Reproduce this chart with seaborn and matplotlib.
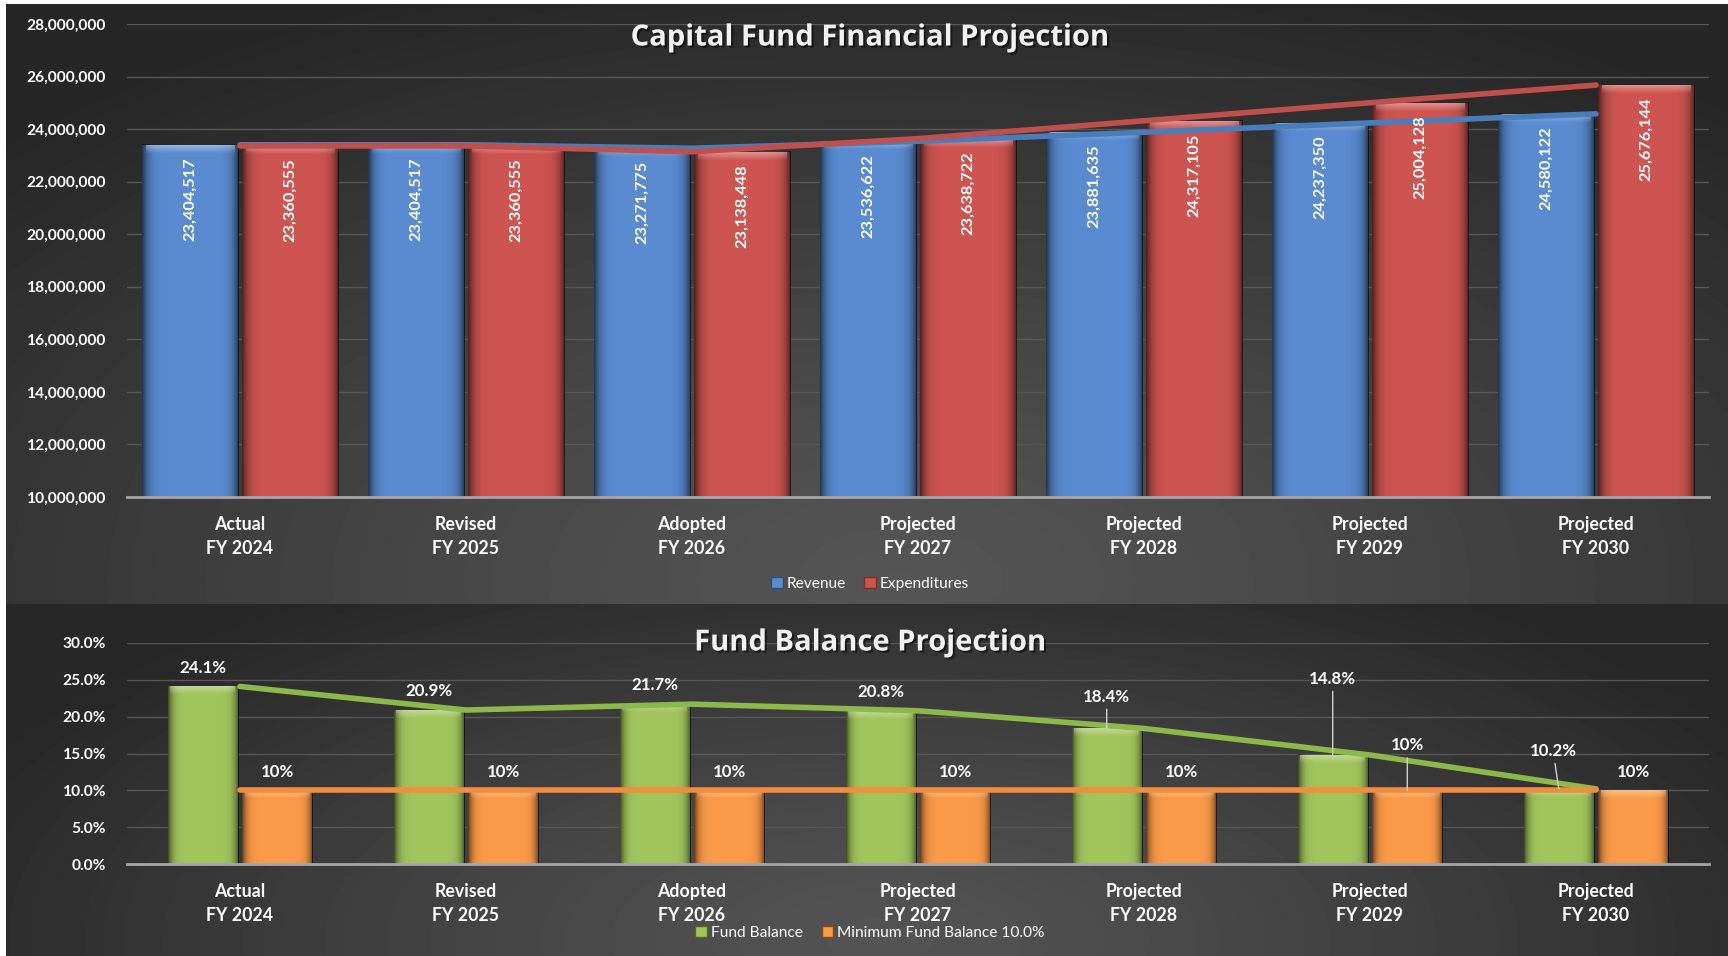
import numpy as np
import pandas as pd
import matplotlib
matplotlib.use("Agg")
import matplotlib.pyplot as plt
import matplotlib.patheffects as pe
import seaborn as sns
from matplotlib.ticker import FuncFormatter, MultipleLocator
from matplotlib.patches import Patch

# ---- data ----
categories = ["Actual\nFY 2024", "Revised\nFY 2025", "Adopted\nFY 2026", "Projected\nFY 2027",
              "Projected\nFY 2028", "Projected\nFY 2029", "Projected\nFY 2030"]
revenue = [23404517, 23404517, 23271775, 23536622, 23881635, 24237350, 24580122]
expenditures = [23360555, 23360555, 23138448, 23638722, 24317105, 25004128, 25676144]
fund_balance = [24.1, 20.9, 21.7, 20.8, 18.4, 14.8, 10.2]
min_balance = [10, 10, 10, 10, 10, 10, 10]

# label nudges (points) for the lower chart, where Excel moved labels by hand
green_dy = [13.5, 13.5, 13.5, 13.5, 23, 55, 27.5]
green_dx = [0, 0, 0, 0, 0, 0, -4]
orange_dy = [13.5, 13.5, 13.5, 13.5, 13.5, 32.5, 13.5]

BLUE, RED = "#5a8bd0", "#cd5451"
BLUE_LINE, RED_LINE = "#4a7ebb", "#c0504d"
GREEN, ORANGE = "#a0c45c", "#fa9a48"
GREEN_LINE, ORANGE_LINE = "#8db84a", "#f58b3c"

W, H = 1728, 956
sns.set_theme(style="dark")
plt.rcParams['font.family'] = ['Lato', 'DejaVu Sans']

fig = plt.figure(figsize=(W / 100, H / 100), dpi=100, facecolor="white")

# ---- dark radial gradient backgrounds, one per chart ----
bg = fig.add_axes([0, 0, 1, 1], zorder=-10)
bg.set_axis_off()
img = np.ones((H, W))
xs = np.arange(W)[None, :]


def panel(y0, y1, cx, cy, rx, ry, c_in, c_out):
    ys = np.arange(y0, y1)[:, None]
    r = np.sqrt(((xs - cx) / rx) ** 2 + ((ys - cy) / ry) ** 2)
    return c_in + (c_out - c_in) * np.clip(r, 0, 1) ** 1.2


img[4:604, :] = panel(4, 604, 900, 580, 1250, 640, 0x55 / 255, 0x26 / 255)
img[604:, :] = panel(604, H, 880, 940, 1000, 420, 0x54 / 255, 0x27 / 255)
img[:, :6] = 1.0
bg.imshow(img, cmap="gray", vmin=0, vmax=1, aspect="auto", extent=(0, W, H, 0))


def shade(ax, containers, bevel_px=9):
    # cheap bevel: dark side edges and a light band on top
    ylo, yhi = ax.get_ylim()
    per_px = (yhi - ylo) / (ax.get_position().height * H)
    g = np.linspace(-1, 1, 80)
    side = np.zeros((1, 80, 4))
    side[..., 3] = np.abs(g) ** 8 * 0.6
    for cont in containers:
        for p in cont.patches:
            x0, w = p.get_x(), p.get_width()
            top = p.get_y() + p.get_height()
            ax.imshow(side, extent=(x0, x0 + w, max(p.get_y(), ylo), top), aspect="auto",
                      zorder=p.get_zorder() + 0.1, interpolation="bilinear")
            band = np.ones((8, 1, 4))
            band[..., 3] = np.linspace(0.35, 0.0, 8)[:, None]
            ax.imshow(band, extent=(x0 + w * 0.04, x0 + w * 0.96, top - bevel_px * per_px, top),
                      aspect="auto", zorder=p.get_zorder() + 0.2, interpolation="bilinear")


def style_axes(ax):
    ax.set_facecolor("none")
    ax.grid(axis="y", color="#575757", lw=1.0)
    ax.grid(axis="x", visible=False)
    for s in ["top", "right", "left"]:
        ax.spines[s].set_visible(False)
    ax.spines["bottom"].set_color("#a6a6a6")
    ax.spines["bottom"].set_linewidth(2)
    ax.spines["bottom"].set_zorder(5)
    ax.tick_params(axis="y", colors="white", labelsize=11.2, length=0, pad=15)
    ax.tick_params(axis="x", colors="white", length=0, pad=14)
    ax.set_xlabel("")
    ax.set_ylabel("")


def finish_ticks(ax):
    ax.set_xticks(pos, categories, fontweight="bold", fontsize=12.8, linespacing=1.45)
    plt.setp(ax.get_yticklabels(), fontweight="bold")


shadow = [pe.withSimplePatchShadow(offset=(1.5, -1.5), shadow_rgbFace="black", alpha=0.5)]
pos = np.arange(len(categories))

# ---- top chart: revenue vs expenditures ----
ax1 = fig.add_axes([127 / W, 1 - 497 / H, (1709 - 127) / W, (497 - 24) / H])
df_top = pd.DataFrame({
    "Year": categories * 2,
    "Series": ["Revenue"] * 7 + ["Expenditures"] * 7,
    "Value": revenue + expenditures,
})
sns.barplot(data=df_top, x="Year", y="Value", hue="Series", palette=[BLUE, RED],
            width=0.885, gap=0.04, saturation=1, legend=False, ax=ax1, zorder=2,
            linewidth=0, edgecolor="none")
ax1.set_xlim(-0.5, 6.5)
ax1.set_ylim(10_000_000, 28_000_000)
ax1.yaxis.set_major_locator(MultipleLocator(2_000_000))
ax1.yaxis.set_major_formatter(FuncFormatter(lambda v, _: f"{v:,.0f}"))
style_axes(ax1)
shade(ax1, ax1.containers)

for cont in ax1.containers:
    for p in cont.patches:
        top = p.get_y() + p.get_height()
        ax1.annotate(f"{top:,.0f}", (p.get_x() + p.get_width() / 2, top), xytext=(0, -9),
                     textcoords="offset points", rotation=90, ha="center", va="top",
                     color="white", fontweight="bold", fontsize=11.8, zorder=6)

sns.lineplot(x=pos, y=revenue, color=BLUE_LINE, lw=4, ax=ax1, zorder=4,
             solid_capstyle="round")
sns.lineplot(x=pos, y=expenditures, color=RED_LINE, lw=4, ax=ax1, zorder=4.5,
             solid_capstyle="round")
ax1.set_xlim(-0.5, 6.5)
ax1.set_ylim(10_000_000, 28_000_000)
finish_ticks(ax1)

fig.text(870 / W, 1 - 38 / H, "Capital Fund Financial Projection", ha="center", va="center",
         color="#f2f2f2", fontsize=21, fontweight="bold", family=["Open Sans", "DejaVu Sans"],
         path_effects=shadow)
fig.legend(handles=[Patch(facecolor=BLUE, edgecolor="#2f4f7f", label="Revenue"),
                    Patch(facecolor=RED, edgecolor="#7f2f2d", label="Expenditures")],
           loc="center", bbox_to_anchor=(870 / W, 1 - 584 / H), ncol=2, frameon=False,
           fontsize=11.2, labelcolor="white", handlelength=0.75, handleheight=0.75,
           handletextpad=0.25, columnspacing=1.2)

# ---- bottom chart: fund balance ----
ax2 = fig.add_axes([127 / W, 1 - 864 / H, (1709 - 127) / W, (864 - 643) / H])
df_bot = pd.DataFrame({
    "Year": categories * 2,
    "Series": ["Fund Balance"] * 7 + ["Minimum Fund Balance 10.0%"] * 7,
    "Value": fund_balance + min_balance,
})
sns.barplot(data=df_bot, x="Year", y="Value", hue="Series", palette=[GREEN, ORANGE],
            width=0.66, gap=0.06, saturation=1, legend=False, ax=ax2, zorder=2,
            linewidth=0, edgecolor="none")
ax2.set_xlim(-0.5, 6.5)
ax2.set_ylim(0, 30)
ax2.yaxis.set_major_locator(MultipleLocator(5))
ax2.yaxis.set_major_formatter(FuncFormatter(lambda v, _: f"{v:.1f}%"))
style_axes(ax2)
shade(ax2, ax2.containers)

sns.lineplot(x=pos, y=fund_balance, color=GREEN_LINE, lw=4, ax=ax2, zorder=4,
             solid_capstyle="round")
sns.lineplot(x=pos, y=min_balance, color=ORANGE_LINE, lw=4, ax=ax2, zorder=4.5,
             solid_capstyle="round")
ax2.set_xlim(-0.5, 6.5)
ax2.set_ylim(0, 30)
finish_ticks(ax2)

green_bars, orange_bars = ax2.containers[0], ax2.containers[1]
for i, p in enumerate(green_bars.patches):
    top = p.get_height()
    lead = dict(arrowstyle="-", color="#d0d0d0", lw=1, shrinkA=1, shrinkB=0) if green_dy[i] > 20 else None
    ax2.annotate(f"{fund_balance[i]:.1f}%", (p.get_x() + p.get_width() / 2, top),
                 xytext=(green_dx[i], green_dy[i]), textcoords="offset points",
                 ha="center", va="center", color="white", fontweight="bold", fontsize=12.2,
                 arrowprops=lead, zorder=6)
for i, p in enumerate(orange_bars.patches):
    top = p.get_height()
    lead = dict(arrowstyle="-", color="#d0d0d0", lw=1, shrinkA=1, shrinkB=0) if orange_dy[i] > 20 else None
    ax2.annotate(f"{min_balance[i]:.0f}%", (p.get_x() + p.get_width() / 2, top),
                 xytext=(0, orange_dy[i]), textcoords="offset points",
                 ha="center", va="center", color="white", fontweight="bold", fontsize=12.2,
                 arrowprops=lead, zorder=6)

fig.text(870 / W, 1 - 643 / H, "Fund Balance Projection", ha="center", va="center",
         color="#f2f2f2", fontsize=21, fontweight="bold", family=["Open Sans", "DejaVu Sans"],
         path_effects=shadow, zorder=10)
fig.legend(handles=[Patch(facecolor=GREEN, edgecolor="#4f6b24", label="Fund Balance"),
                    Patch(facecolor=ORANGE, edgecolor="#8a4a14", label="Minimum Fund Balance 10.0%")],
           loc="center", bbox_to_anchor=(870 / W, 1 - 933 / H), ncol=2, frameon=False,
           fontsize=11.2, labelcolor="white", handlelength=0.75, handleheight=0.75,
           handletextpad=0.25, columnspacing=1.2)

fig.savefig("out.png", dpi=100, facecolor=fig.get_facecolor())
